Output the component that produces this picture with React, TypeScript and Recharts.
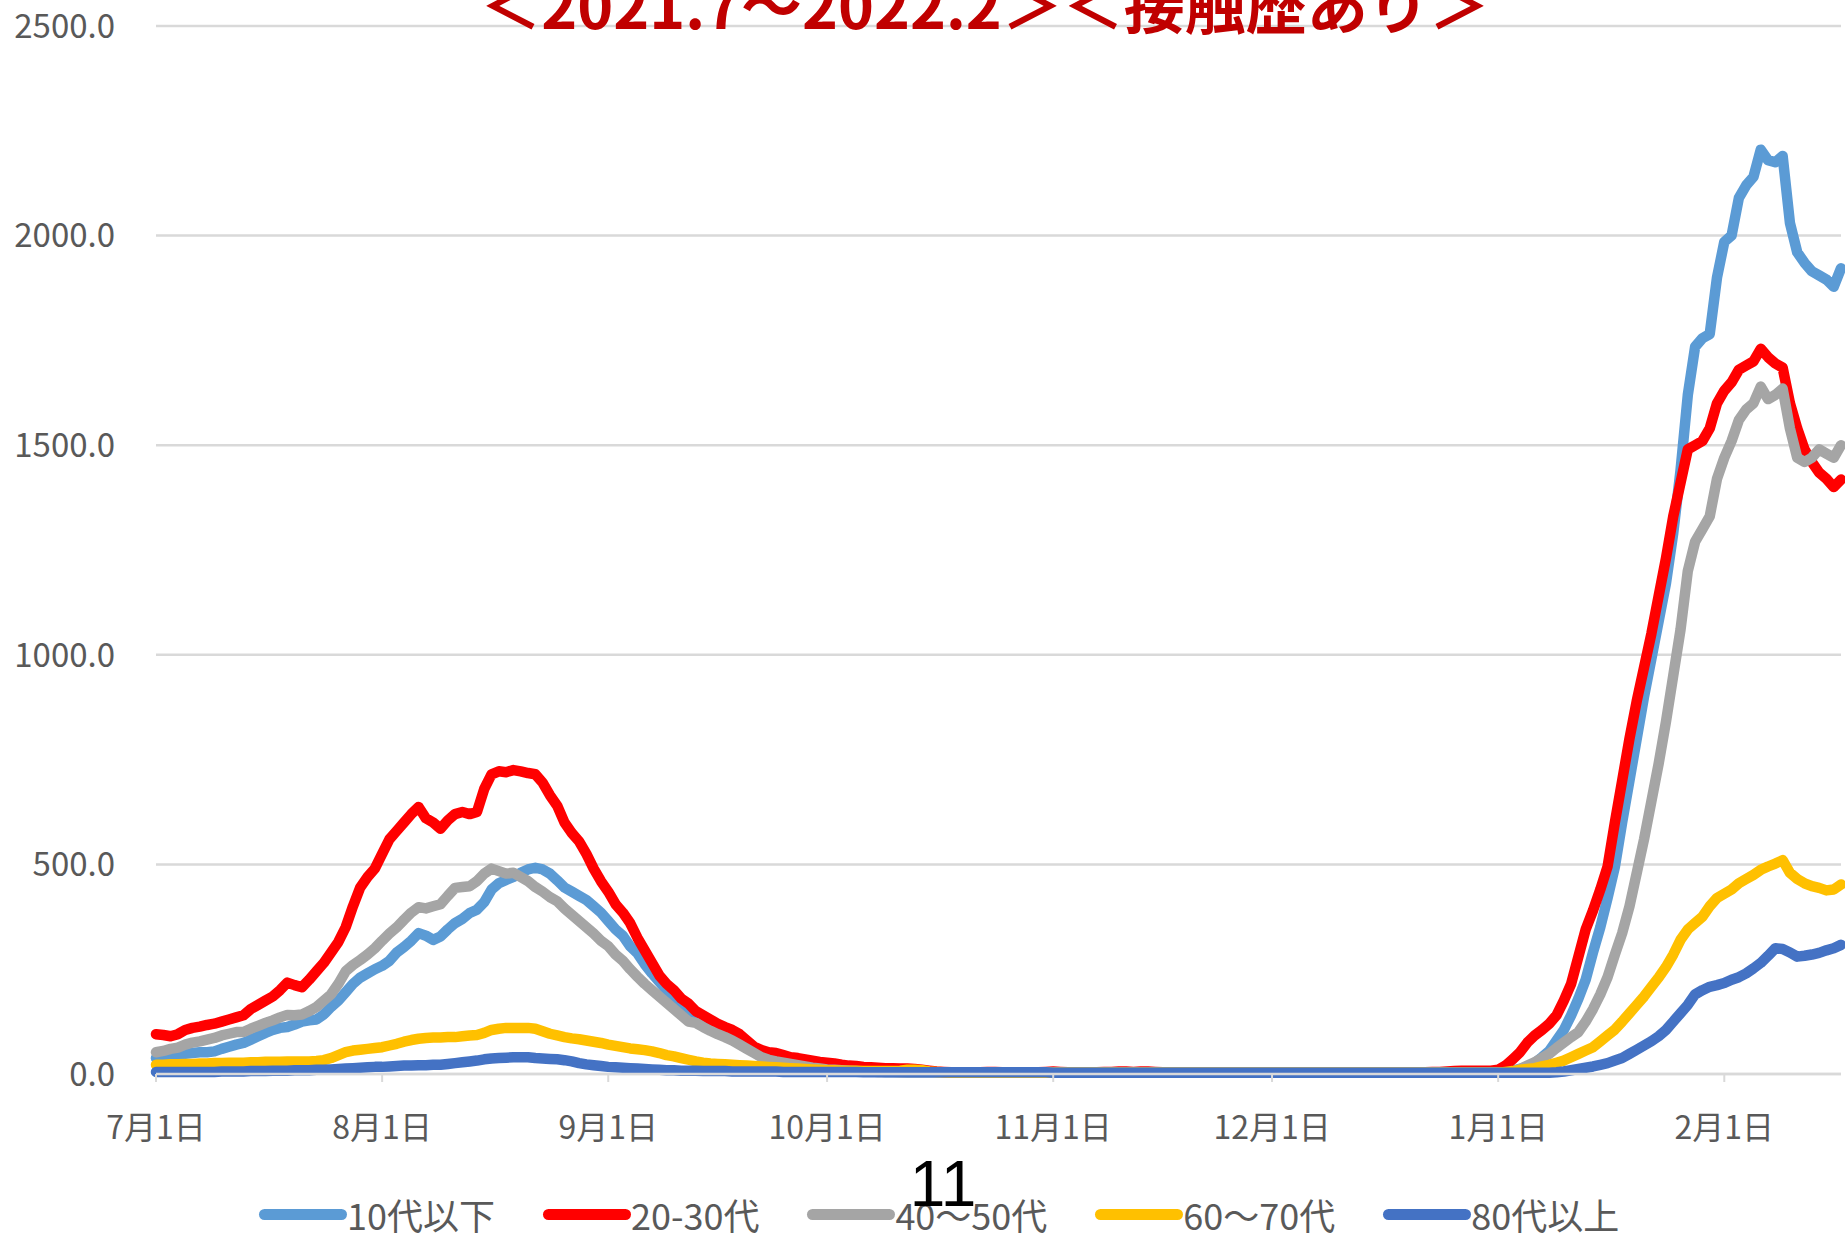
import { LineChart, Line, XAxis, YAxis, CartesianGrid } from "recharts";

// daily values, 2021-07-01 .. 2022-02-17 (one row per month in comments)
const teens = [
    // Jul
    38, 40, 42, 45, 48, 50, 52, 52, 54, 60,
    65, 70, 74, 82, 90, 98, 105, 110, 112, 118,
    125, 128, 130, 142, 160, 175, 195, 215, 230, 240,
    250,
    // Aug
    258, 270, 290, 303, 318, 336, 330, 320, 328, 345,
    360, 370, 384, 392, 410, 440, 455, 463, 470, 480,
    488, 492, 488, 478, 462, 445, 435, 425, 415, 400,
    385,
    // Sep
    365, 345, 330, 305, 288, 262, 240, 220, 200, 182,
    165, 148, 135, 125, 115, 105, 98, 90, 82, 72,
    60, 50, 44, 38, 32, 27, 24, 20, 17, 15,
    // Oct
    13, 11, 10, 9, 8, 7, 6, 6, 5, 5,
    5, 4, 4, 4, 4, 4, 4, 4, 4, 4,
    4, 4, 4, 4, 4, 4, 4, 4, 4, 4,
    4,
    // Nov
    4, 4, 4, 4, 4, 4, 4, 4, 4, 4,
    4, 4, 4, 4, 4, 4, 4, 4, 4, 4,
    4, 4, 4, 4, 4, 4, 4, 4, 4, 4,
    // Dec
    4, 4, 4, 4, 4, 4, 4, 4, 4, 4,
    4, 4, 4, 4, 4, 4, 4, 4, 4, 4,
    4, 4, 4, 4, 4, 4, 4, 4, 4, 4,
    4,
    // Jan
    4, 5, 8, 12, 18, 26, 40, 55, 80, 105,
    140, 180, 225, 290, 350, 420, 494, 600, 700, 800,
    900, 990, 1080, 1170, 1290, 1440, 1620, 1735, 1755, 1765,
    1900,
    // Feb
    1985, 2000, 2090, 2120, 2140, 2205, 2180, 2175, 2190, 2030,
    1960, 1935, 1915, 1905, 1895, 1878, 1922,
];

const twenties = [
    // Jul
    95, 93, 90, 95, 105, 110, 113, 117, 120, 125,
    130, 135, 140, 155, 165, 175, 185, 200, 218, 212,
    207, 225, 245, 265, 290, 315, 350, 400, 445, 470,
    490,
    // Aug
    525, 560, 580, 600, 620, 637, 610, 600, 585, 605,
    620, 625, 620, 625, 680, 715, 722, 720, 725, 722,
    718, 715, 695, 665, 640, 600, 575, 555, 525, 490,
    460,
    // Sep
    435, 405, 385, 360, 325, 295, 265, 235, 215, 200,
    180, 168, 150, 140, 130, 120, 112, 105, 95, 80,
    65, 57, 52, 50, 45, 40, 38, 35, 32, 29,
    // Oct
    27, 25, 22, 20, 19, 17, 16, 15, 14, 14,
    13, 13, 12, 10, 8, 6, 5, 4, 3, 3,
    3, 4, 5, 5, 4, 3, 3, 3, 3, 4,
    5,
    // Nov
    6, 5, 4, 3, 3, 3, 4, 5, 5, 6,
    6, 5, 6, 6, 5, 4, 3, 3, 3, 3,
    3, 3, 3, 3, 3, 3, 3, 3, 3, 3,
    // Dec
    3, 3, 3, 3, 3, 3, 3, 3, 3, 3,
    3, 3, 3, 3, 3, 3, 3, 3, 3, 3,
    4, 4, 5, 5, 6, 7, 8, 8, 8, 8,
    8,
    // Jan
    10, 20, 35, 52, 75, 92, 105, 120, 140, 175,
    215, 280, 345, 390, 440, 495, 600, 700, 800, 890,
    970, 1050, 1140, 1230, 1330, 1410, 1490, 1500, 1510, 1540,
    1600,
    // Feb
    1630, 1650, 1680, 1690, 1700, 1730, 1710, 1695, 1685, 1600,
    1540, 1490, 1460, 1435, 1420, 1400, 1418,
];

const forties = [
    // Jul
    52, 55, 60, 63, 70, 75, 78, 82, 86, 92,
    96, 100, 100, 108, 115, 122, 128, 135, 141, 140,
    142, 150, 160, 175, 190, 215, 245, 260, 272, 285,
    300,
    // Aug
    318, 335, 350, 368, 385, 398, 395, 400, 405, 425,
    444, 446, 448, 460, 478, 490, 484, 478, 480, 470,
    460, 446, 435, 422, 412, 395, 380, 365, 350, 335,
    318,
    // Sep
    305, 285, 270, 250, 232, 215, 200, 185, 170, 155,
    140, 125, 122, 112, 103, 95, 88, 80, 70, 60,
    50, 40, 34, 30, 27, 24, 21, 18, 15, 13,
    // Oct
    11, 10, 9, 8, 7, 6, 6, 5, 5, 5,
    4, 4, 4, 4, 4, 4, 4, 4, 4, 4,
    4, 4, 4, 4, 4, 4, 4, 4, 4, 4,
    4,
    // Nov
    4, 4, 4, 4, 4, 4, 4, 4, 4, 4,
    4, 4, 4, 4, 4, 4, 4, 4, 4, 4,
    4, 4, 4, 4, 4, 4, 4, 4, 4, 4,
    // Dec
    4, 4, 4, 4, 4, 4, 4, 4, 4, 4,
    4, 4, 4, 4, 4, 4, 4, 4, 4, 4,
    4, 4, 4, 4, 4, 4, 4, 4, 4, 4,
    4,
    // Jan
    4, 4, 5, 12, 20, 28, 38, 48, 62, 75,
    88, 100, 125, 155, 190, 231, 285, 336, 400, 480,
    560, 650, 740, 840, 950, 1060, 1200, 1270, 1300, 1330,
    1420,
    // Feb
    1470, 1510, 1560, 1585, 1600, 1640, 1610, 1620, 1635, 1540,
    1470, 1460, 1470, 1490, 1480, 1470, 1500,
];

const sixties = [
    // Jul
    22, 22, 23, 23, 24, 24, 25, 25, 26, 26,
    27, 27, 27, 28, 28, 29, 29, 29, 30, 30,
    30, 30, 31, 33, 38, 45, 52, 56, 58, 60,
    62,
    // Aug
    64, 68, 72, 77, 81, 84, 86, 87, 87, 88,
    88, 90, 92, 93, 98, 105, 108, 110, 110, 110,
    110, 108, 102, 96, 92, 88, 85, 83, 80, 77,
    74,
    // Sep
    70, 67, 64, 61, 59, 57, 54, 50, 45, 42,
    38, 34, 30, 27, 25, 24, 23, 22, 21, 20,
    19, 18, 17, 16, 15, 14, 13, 12, 11, 10,
    // Oct
    9, 9, 8, 8, 8, 7, 7, 7, 7, 7,
    8, 10, 10, 9, 6, 5, 4, 3, 3, 3,
    3, 3, 3, 3, 3, 3, 3, 3, 3, 3,
    3,
    // Nov
    3, 3, 3, 3, 3, 3, 3, 3, 3, 3,
    3, 3, 3, 3, 3, 3, 3, 3, 3, 3,
    3, 3, 3, 3, 3, 3, 3, 3, 3, 3,
    // Dec
    3, 3, 3, 3, 3, 3, 3, 3, 3, 3,
    3, 3, 3, 3, 3, 3, 3, 3, 3, 3,
    3, 3, 3, 3, 3, 3, 3, 3, 3, 3,
    3,
    // Jan
    3, 5, 7, 10, 12, 14, 18, 22, 27, 32,
    40, 48, 56, 64, 78, 92, 106, 125, 145, 165,
    185, 208, 230, 255, 285, 320, 345, 360, 375, 400,
    420,
    // Feb
    430, 440, 455, 465, 475, 487, 495, 502, 510, 480,
    465, 455, 448, 444, 438, 440, 452,
];

const eighties = [
    // Jul
    5, 5, 5, 5, 5, 5, 5, 5, 5, 6,
    6, 6, 6, 7, 7, 7, 8, 8, 8, 9,
    9, 9, 10, 10, 11, 12, 13, 14, 15, 16,
    17,
    // Aug
    17, 18, 19, 20, 20, 21, 21, 22, 22, 24,
    26, 28, 30, 32, 35, 37, 38, 39, 40, 40,
    40, 38, 37, 36, 35, 33, 30, 26, 23, 21,
    19,
    // Sep
    17, 16, 15, 14, 13, 12, 11, 10, 9, 9,
    8, 8, 8, 7, 7, 7, 7, 6, 6, 6,
    6, 6, 6, 6, 5, 5, 5, 5, 5, 5,
    // Oct
    5, 5, 5, 5, 5, 4, 4, 4, 4, 4,
    4, 4, 4, 4, 4, 4, 4, 4, 4, 4,
    4, 4, 4, 4, 4, 4, 4, 4, 4, 4,
    4,
    // Nov
    3, 3, 3, 3, 3, 3, 3, 3, 3, 3,
    3, 3, 3, 3, 3, 3, 3, 3, 3, 3,
    3, 3, 3, 3, 3, 3, 3, 3, 3, 3,
    // Dec
    3, 3, 3, 3, 3, 3, 3, 3, 3, 3,
    3, 3, 3, 3, 3, 3, 3, 3, 3, 3,
    3, 3, 3, 3, 3, 3, 3, 3, 3, 3,
    3,
    // Jan
    3, 3, 3, 3, 3, 3, 3, 3, 4, 6,
    9, 12, 15, 18, 22, 26, 32, 38, 48, 58,
    68, 78, 90, 105, 125, 145, 165, 190, 200, 208,
    212,
    // Feb
    217, 225, 231, 240, 252, 265, 282, 300, 298, 290,
    280, 282, 285, 289, 295, 300, 308,
];

const xTickDays = [0, 31, 62, 92, 123, 153, 184, 215];
const xTickLabels = ["7月1日", "8月1日", "9月1日", "10月1日", "11月1日", "12月1日", "1月1日", "2月1日"];
const yTicks = [0, 500, 1000, 1500, 2000, 2500];

const SERIES = [
    { key: "teens", name: "10代以下", color: "#5B9BD5" },
    { key: "twenties", name: "20-30代", color: "#FF0000" },
    { key: "forties", name: "40～50代", color: "#A5A5A5" },
    { key: "sixties", name: "60～70代", color: "#FFC000" },
    { key: "eighties", name: "80代以上", color: "#4472C4" },
];

const chartData = teens.map((v, i) => ({
    day: i,
    teens: v,
    twenties: twenties[i],
    forties: forties[i],
    sixties: sixties[i],
    eighties: eighties[i],
}));

const W = 1845;
const H = 1239;
const FONT = "'Noto Sans CJK JP', 'Noto Sans', sans-serif";
const GRID = "#D9D9D9";
const TEXT = "#595959";

export default function App() {
    return (
        <div style={{ position: "absolute", left: 0, top: 0, width: W, height: H, background: "#ffffff", overflow: "hidden" }}>
            <LineChart width={W} height={H} data={chartData} margin={{ top: 26, right: 4, bottom: 105, left: 0 }}>
                <CartesianGrid vertical={false} stroke={GRID} strokeWidth={2.5} />
                <XAxis
                    dataKey="day"
                    type="number"
                    domain={[0, 231]}
                    ticks={xTickDays}
                    interval={0}
                    height={60}
                    axisLine={{ stroke: GRID, strokeWidth: 2.5 }}
                    tickLine={{ stroke: GRID, strokeWidth: 2 }}
                    tickSize={8}
                    tickMargin={34}
                    tickFormatter={(d: number) => xTickLabels[xTickDays.indexOf(d)] ?? ""}
                    tick={{ fill: TEXT, fontSize: 32, fontFamily: FONT }}
                />
                <YAxis
                    domain={[0, 2500]}
                    ticks={yTicks}
                    width={156}
                    axisLine={false}
                    tickLine={false}
                    tickSize={0}
                    tickMargin={41}
                    tickFormatter={(v: number) => v.toFixed(1)}
                    tick={{ fill: TEXT, fontSize: 33, fontFamily: FONT }}
                />
                {SERIES.map((s) => (
                    <Line
                        key={s.key}
                        dataKey={s.key}
                        name={s.name}
                        type="linear"
                        stroke={s.color}
                        strokeWidth={10.5}
                        strokeLinejoin="round"
                        strokeLinecap="round"
                        dot={false}
                        activeDot={false}
                        isAnimationActive={false}
                    />
                ))}
            </LineChart>

            {/* legend */}
            <div style={{ position: "absolute", left: 259, top: 1192, display: "flex", alignItems: "center", gap: 48, fontFamily: FONT }}>
                {SERIES.map((s) => (
                    <div key={s.key} style={{ display: "flex", alignItems: "center" }}>
                        <div style={{ width: 88, height: 11, borderRadius: 6, background: s.color }} />
                        <span style={{ fontSize: 36, lineHeight: "44px", color: TEXT, whiteSpace: "nowrap" }}>{s.name}</span>
                    </div>
                ))}
            </div>

            <svg width={W} height={H} style={{ position: "absolute", left: 0, top: 0, pointerEvents: "none" }}>
                <text x={985} y={29} textAnchor="middle" fontSize={61} fontWeight={700} fill="#C00000" fontFamily={FONT}>
                    ＜2021.7～2022.2＞＜接触歴あり＞
                </text>
                <text x={943} y={1206} textAnchor="middle" fontSize={64} fill="#000000" fontFamily="'Liberation Sans', Arial, sans-serif">
                    11
                </text>
            </svg>
        </div>
    );
}
